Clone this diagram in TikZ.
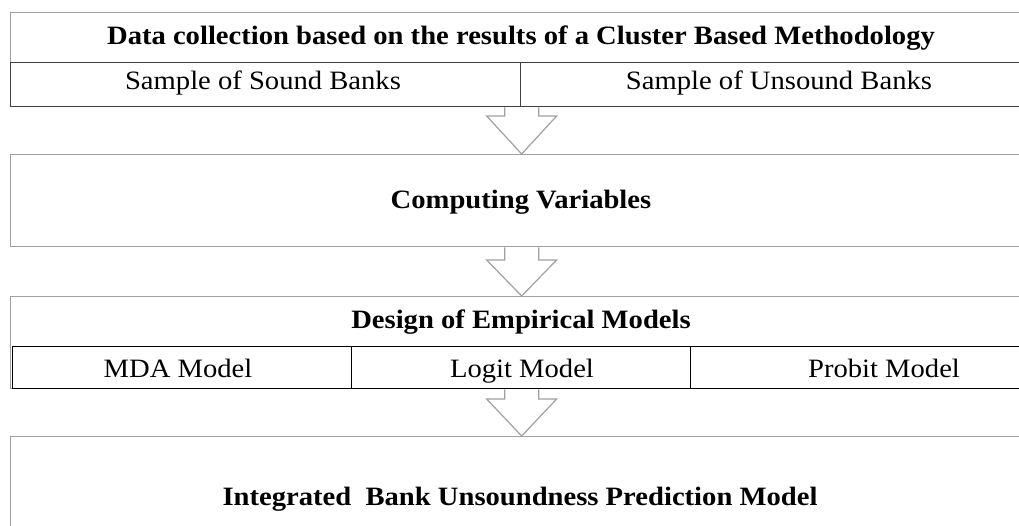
\documentclass[tikz,border=0pt]{standalone}
\usepackage{fontspec}
\setmainfont[FakeStretch=1.08]{Liberation Serif}
\usetikzlibrary{calc}
\definecolor{boxgray}{HTML}{A0A0A0}
\definecolor{subdark}{HTML}{404040}
\begin{document}
\begin{tikzpicture}[x=1pt,y=-1pt,
  outerbox/.style={draw=boxgray,line width=1.3pt,fill=none,inner sep=0pt,anchor=north west},
  subbox/.style={draw=subdark,line width=1.3pt,fill=none,inner sep=0pt,anchor=north west},
  rowbox/.style={draw=black,line width=1.2pt,fill=none,inner sep=0pt,anchor=north west},
  blockarrow/.style={draw=boxgray,line width=1.2pt,line join=miter},
  headtxt/.style={font=\fontsize{26.5}{31}\selectfont\bfseries,inner sep=0pt,anchor=base},
  itemtxt/.style={font=\fontsize{26.5}{31}\selectfont,inner sep=0pt,anchor=base}]
\useasboundingbox[fill=white] (0,0) rectangle (1019,526);
\clip (0,0) rectangle (1019,526);
% box 1
\node[outerbox,minimum width=1022pt,minimum height=94pt] (b1) at (10,12) {};
\node[subbox,minimum width=510pt,minimum height=44pt] (s1) at (10,62) {};
\node[subbox,minimum width=512pt,minimum height=44pt] (s2) at (520,62) {};
\node[headtxt] (t1) at (521,45) {Data collection based on the results of a Cluster Based Methodology};
\node[itemtxt] (t2) at (263,90) {Sample of Sound Banks};
\node[itemtxt] (t3) at (779,90) {Sample of Unsound Banks};
% box 2
\node[outerbox,minimum width=1022pt,minimum height=92pt] (b2) at (10,154) {};
\node[headtxt] (t4) at (521,209) {Computing Variables};
% box 3
\node[outerbox,minimum width=1022pt,minimum height=92pt] (b3) at (10,296) {};
\node[rowbox,minimum width=339pt,minimum height=42pt] (r1) at (12,346) {};
\node[rowbox,minimum width=339pt,minimum height=42pt] (r2) at (351,346) {};
\node[rowbox,minimum width=342pt,minimum height=42pt] (r3) at (690,346) {};
\node[headtxt] (t5) at (521,328) {Design of Empirical Models};
\node[itemtxt] (t6) at (178,377) {MDA Model};
\node[itemtxt] (t7) at (522,377) {Logit Model};
\node[itemtxt] (t8) at (884,377) {Probit Model};
% box 4
\node[outerbox,minimum width=1022pt,minimum height=130pt] (b4) at (10,436) {};
\node[headtxt] (t9) at (520,505) {Integrated\ \ Bank Unsoundness Prediction Model};
% block arrows
\draw[blockarrow] ([xshift=-17pt]b1.south) |- ([xshift=-35pt,yshift=38pt]b2.north) -- (b2.north) -- ([xshift=35pt,yshift=38pt]b2.north) -| ([xshift=17pt]b1.south);
\draw[blockarrow] ([xshift=-17pt]b2.south) |- ([xshift=-35pt,yshift=36pt]b3.north) -- (b3.north) -- ([xshift=35pt,yshift=36pt]b3.north) -| ([xshift=17pt]b2.south);
\draw[blockarrow] ([xshift=-17pt]b3.south) |- ([xshift=-35pt,yshift=37pt]b4.north) -- (b4.north) -- ([xshift=35pt,yshift=37pt]b4.north) -| ([xshift=17pt]b3.south);
\end{tikzpicture}
\end{document}
